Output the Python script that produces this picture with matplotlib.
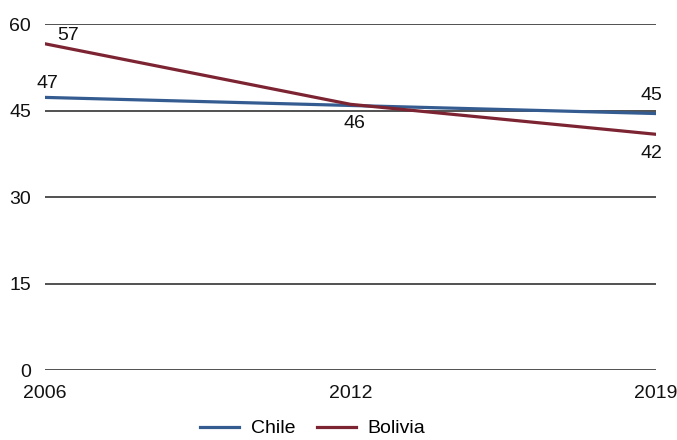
import matplotlib
matplotlib.use("Agg")
import matplotlib.pyplot as plt

years = ["2006", "2012", "2019"]
chile = [47.3, 45.9, 44.5]
bolivia = [56.6, 46.1, 40.9]
y_ticks = [0, 15, 30, 45, 60]

# label text as printed on the chart: (series, index, text, offset in points)
labels = [
    (bolivia, 0, "57", (16.5, 5.8)),
    (chile, 0, "47", (1.4, 10)),
    (bolivia, 1, "46", (3, -14)),
    (chile, 2, "45", (-3, 13)),
    (bolivia, 2, "42", (-3, -14)),
]

plt.rcParams['font.family'] = ['Liberation Sans', 'DejaVu Sans']
fs = 14

fig = plt.figure(figsize=(6.77, 4.4), dpi=100)
ax = fig.add_axes([0.0665, 0.159, 0.9025, 0.786])

x = list(range(len(years)))
for yv in y_ticks:
    ax.axhline(yv, color="#222222", lw=1.1, zorder=1)

ax.plot(x, chile, color="#355c91", lw=2.3, label="Chile", zorder=3)
ax.plot(x, bolivia, color="#7d2433", lw=2.3, label="Bolivia", zorder=3)

for series, i, txt, off in labels:
    ax.annotate(txt, (x[i], series[i]), xytext=off, textcoords="offset points",
                ha="center", va="center", fontsize=fs, color="#111111")

ax.set_xlim(0, 2)
ax.set_ylim(0, 60)
ax.set_yticks(y_ticks)
ax.set_xticks(x)
ax.set_xticklabels(years)
ax.tick_params(length=0, labelsize=fs, colors="#111111")
ax.tick_params(axis="y", pad=10)
ax.tick_params(axis="x", pad=11)
for s in ax.spines.values():
    s.set_visible(False)

fig.legend(loc="center", bbox_to_anchor=(0.462, 0.026), ncol=2, frameon=False,
           fontsize=fs, handlelength=2.0, columnspacing=1.1, handletextpad=0.6)

fig.savefig("out.png", dpi=100)
